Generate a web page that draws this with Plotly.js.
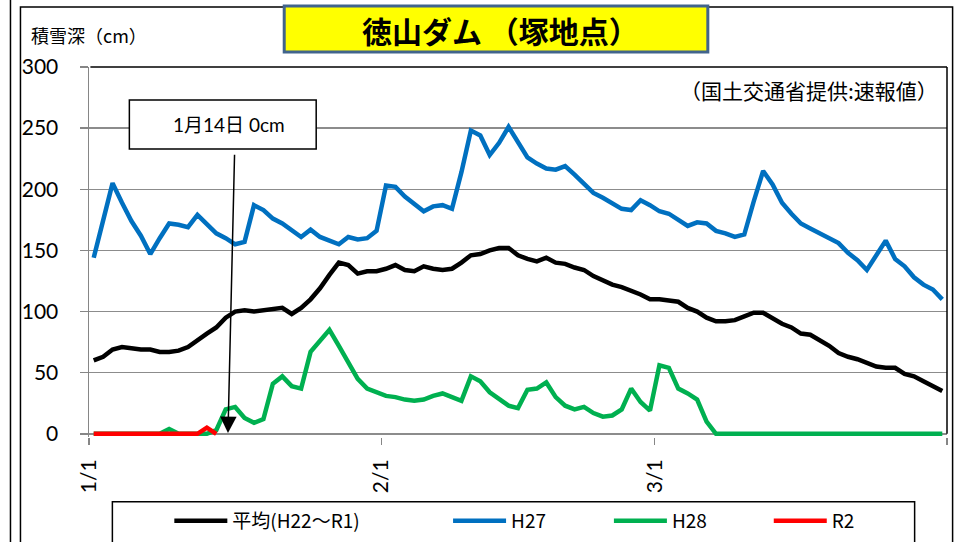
<!DOCTYPE html>
<html><head><meta charset="utf-8">
<script src="https://cdn.plot.ly/plotly-3.0.1.min.js"></script>
<style>html,body{margin:0;padding:0;background:#fff}#chart{width:963px;height:542px}</style>
</head><body><div id="chart"></div>
<script>
// ---- data (snow depth, cm; one value per day from 1/1) ----
const seriesNames = ['平均(H22～R1)', 'H27', 'H28', 'R2'];
const avgDepth = [60,63,69,71,70,69,69,67,67,68,
  71,77,82,87,95,100,101,100,101,102,
  103,98,103,110,119,130,140,138,131,133,
  133,135,138,134,133,137,135,134,135,140,
  146,147,150,152,152,146,143,141,144,140,
  139,136,134,129,125,122,120,117,114,110,
  110,109,108,103,100,95,92,92,93,96,
  99,99,94,90,87,82,81,77,72,66,
  63,61,58,55,54,54,49,47,43,39,
  35];
const h27Depth = [144,175,205,189,174,162,147,160,172,171,
  169,179,172,164,160,155,157,187,183,176,
  172,166,161,167,161,158,155,161,159,160,
  166,203,202,194,188,182,186,187,184,214,
  248,244,228,238,251,238,226,221,217,216,
  219,212,205,197,193,189,184,183,191,187,
  182,180,175,170,173,172,166,164,161,163,
  190,215,204,189,180,172,168,164,160,156,
  148,142,134,146,158,143,137,128,122,118,
  110];
const h28Depth = [0,0,0,0,0,0,0,0,4,0,
  0,0,0,3,20,22,13,9,12,41,
  47,39,37,67,76,85,72,58,45,37,
  34,31,30,28,27,28,31,33,30,27,
  47,43,34,29,23,21,36,37,42,30,
  23,20,22,17,14,15,20,37,26,19,
  56,54,37,33,28,10,0,0,0,0,
  0,0,0,0,0,0,0,0,0,0,
  0,0,0,0,0,0,0,0,0,0,
  0];
const r2Depth = [0,0,0,0,0,0,0,0,0,0,0,0,5,0];
const tickLabels = ['1/1', '2/1', '3/1', ''];
const monthStartDay = [0, 31, 60, 91];
const yTicks = [0, 50, 100, 150, 200, 250, 300];

// ---- layout helpers ----
// plot area extends ~3px below the zero line so that the thick zero-valued lines are not clipped
const W = 963, H = 542, L = 88.6, R = 947.4, T = 67, ZERO = 434, YMIN = -2.6;
const pxPerCm = (ZERO - T) / 300;
const B = ZERO - YMIN * pxPerCm;
const px = x => (x - L) / (R - L);
const py = y => (B - y) / (B - T);
const colors = ['#000000', '#0070C0', '#00B050', '#FF0000'];
const FONT = 'Lato, "Noto Sans CJK JP", sans-serif';
const CJK = '"Noto Sans CJK JP", sans-serif';

const legendIds = ['legend', 'legend2', 'legend3', 'legend4'];
const traces = [avgDepth, h27Depth, h28Depth, r2Depth].map((d, k) => ({
  type: 'scatter', mode: 'lines', y: d, name: seriesNames[k],
  line: {color: colors[k], width: 4.5},
  legend: legendIds[k], showlegend: true, hoverinfo: 'skip'
}));

const legendTextStart = [232, 511, 672, 832];
const legendBase = {
  orientation: 'h', bgcolor: 'rgba(0,0,0,0)', borderwidth: 0,
  font: {family: CJK, size: 19, color: '#000'}, itemwidth: 53,
  xanchor: 'left', yanchor: 'middle', y: py(521)
};

const layout = {
  width: W, height: H, showlegend: true,
  margin: {l: L, r: W - R, t: T, b: H - B, autoexpand: false},
  paper_bgcolor: '#fff', plot_bgcolor: '#fff',
  xaxis: {
    range: [-0.5, 90.5], tickmode: 'array',
    tickvals: monthStartDay.map(d => d - 0.5), ticktext: tickLabels,
    tickangle: -90, ticks: 'outside', ticklen: 7, tickwidth: 1.5, tickcolor: '#868686',
    showline: false, showgrid: false, zeroline: false, ticklabelstandoff: 6,
    tickfont: {family: FONT, size: 21, color: '#000'}
  },
  yaxis: {
    range: [YMIN, 300], tickmode: 'array', tickvals: yTicks,
    ticks: 'outside', ticklen: 8, tickwidth: 1.5, tickcolor: '#868686',
    showline: true, linecolor: '#868686', linewidth: 1.5,
    showgrid: true, gridcolor: '#8c8c8c', gridwidth: 1.5, zeroline: false,
    ticklabelstandoff: 17,
    tickfont: {family: FONT, size: 21, color: '#000'}
  },
  shapes: [
    {type: 'line', xref: 'paper', yref: 'paper', x0: px(10), x1: px(10), y0: py(-5), y1: py(560), line: {color: '#000', width: 1.5}},
    {type: 'rect', xref: 'paper', yref: 'paper', x0: px(20), x1: px(953), y0: py(7), y1: py(560), line: {color: '#000', width: 1.5}},
    {type: 'line', xref: 'paper', yref: 'paper', x0: px(90), x1: 1, y0: 1, y1: 1, line: {color: '#000', width: 1.5}},
    {type: 'line', xref: 'paper', yref: 'paper', x0: 1, x1: 1, y0: py(ZERO), y1: 1, line: {color: '#000', width: 1.5}},
    {type: 'rect', xref: 'paper', yref: 'paper', x0: px(284), x1: px(708), y0: py(6), y1: py(52), fillcolor: '#FFFF00', line: {color: '#41648C', width: 3}, layer: 'above'},
    {type: 'rect', xref: 'paper', yref: 'paper', x0: px(129), x1: px(316), y0: py(100), y1: py(149), fillcolor: '#fff', line: {color: '#000', width: 1.5}, layer: 'above'},
    {type: 'rect', xref: 'paper', yref: 'paper', x0: px(112), x1: px(915), y0: py(502), y1: py(560), line: {color: '#000', width: 1.5}}
  ],
  annotations: [
    {xref: 'paper', yref: 'paper', x: px(500), y: py(30), text: '徳山ダム （塚地点）', showarrow: false,
     xanchor: 'center', yanchor: 'middle', font: {family: CJK, size: 30, color: '#000', weight: 700}},
    {xref: 'paper', yref: 'paper', x: px(29), y: py(35), text: '積雪深（cm）', showarrow: false,
     xanchor: 'left', yanchor: 'middle', font: {family: CJK, size: 18, color: '#000'}},
    {xref: 'paper', yref: 'paper', x: px(940), y: py(90), text: '（国土交通省提供:速報値）', showarrow: false,
     xanchor: 'right', yanchor: 'middle', font: {family: CJK, size: 21, color: '#000'}},
    {xref: 'paper', yref: 'paper', x: px(229), y: py(125), text: '1月14日 0cm', showarrow: false,
     xanchor: 'center', yanchor: 'middle', font: {family: FONT, size: 19, color: '#000'}},
    {xref: 'x', yref: 'y', x: 14.24, y: 0.6, axref: 'x', ayref: 'y', ax: 14.94, ay: 229.5,
     text: '', showarrow: true, arrowhead: 2, arrowsize: 2.2, arrowwidth: 1.5, arrowcolor: '#000'}
  ]
};
legendIds.forEach((id, k) => {
  layout[id] = Object.assign({}, legendBase, {x: px(legendTextStart[k] - 63)});
});

Plotly.newPlot('chart', traces, layout, {displayModeBar: false, staticPlot: true});
</script>
</body></html>
